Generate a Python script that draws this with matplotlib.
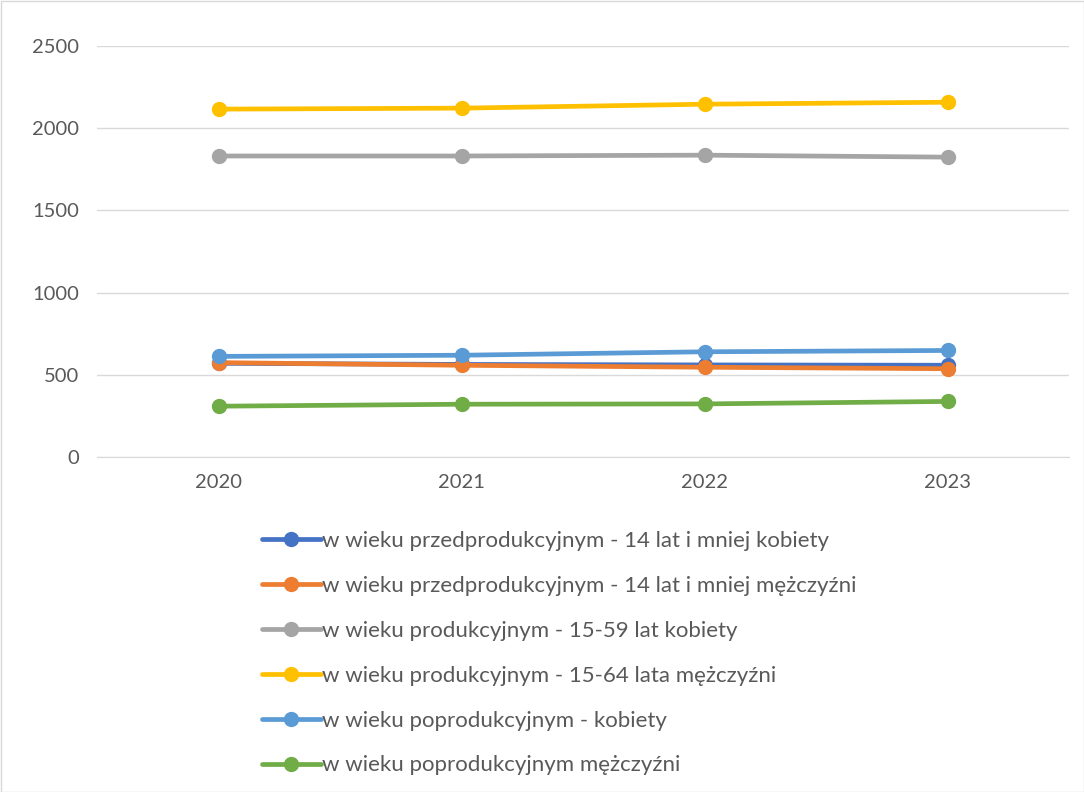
import matplotlib.pyplot as plt
from matplotlib.patches import Rectangle

plt.rcParams['font.family'] = ['Lato', 'DejaVu Sans']

years = ['2020', '2021', '2022', '2023']

labels = [
    'w wieku przedprodukcyjnym - 14 lat i mniej kobiety',
    'w wieku przedprodukcyjnym - 14 lat i mniej mężczyźni',
    'w wieku produkcyjnym - 15-59 lat kobiety',
    'w wieku produkcyjnym - 15-64 lata mężczyźni',
    'w wieku poprodukcyjnym - kobiety',
    'w wieku poprodukcyjnym mężczyźni',
]

przed_k = [570, 563, 560, 558]
przed_m = [574, 558, 546, 537]
prod_k = [1831, 1831, 1836, 1824]
prod_m = [2116, 2122, 2146, 2158]
popr_k = [612, 619, 640, 648]
popr_m = [309, 321, 323, 338]

series = [przed_k, przed_m, prod_k, prod_m, popr_k, popr_m]
colors = ['#4472C4', '#ED7D31', '#A5A5A5', '#FFC000', '#5B9BD5', '#70AD47']

fig = plt.figure(figsize=(10.84, 7.92), dpi=100)
ax = fig.add_axes([97 / 1084, 1 - 457 / 792, (1069 - 97) / 1084, (457 - 46) / 792])

x = range(len(years))
for vals, c, lab in zip(series, colors, labels):
    ax.plot(x, vals, color=c, lw=3.4, marker='o', ms=10, label=lab,
            solid_capstyle='round', zorder=3)

ax.set_xlim(-0.5, 3.5)
ax.set_ylim(0, 2500)
ax.set_yticks(range(0, 2501, 500))
ax.set_xticks(list(x))
ax.set_xticklabels(years)
ax.grid(axis='y', color='#d9d9d9', lw=1)
ax.set_axisbelow(True)
for s in ['top', 'right', 'left']:
    ax.spines[s].set_visible(False)
ax.spines['bottom'].set_color('#d9d9d9')
ax.tick_params(length=0, labelsize=14.5, labelcolor='#595959', pad=12)
ax.tick_params(axis='y', pad=13)

leg = fig.legend(loc='upper left', bbox_to_anchor=(262 / 1084, 1 - 531 / 792),
                 frameon=False, fontsize=16, handlelength=2.65, handletextpad=0.05,
                 labelspacing=1.12, borderpad=0, borderaxespad=0)
for t in leg.get_texts():
    t.set_color('#595959')

fig.patches.append(Rectangle((0.5 / 1084, 0.5 / 792), 1 - 1 / 1084, 1 - 1 / 792,
                             transform=fig.transFigure, fill=False,
                             edgecolor='#d9d9d9', lw=1))

fig.savefig('out.png', dpi=100)
